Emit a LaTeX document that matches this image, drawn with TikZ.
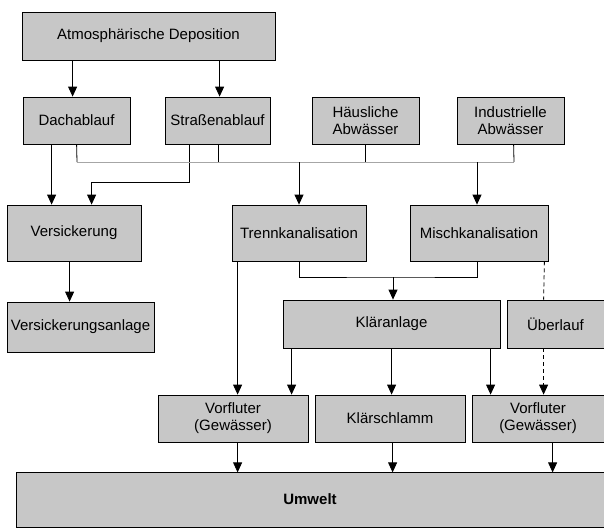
\documentclass[tikz,border=0pt]{standalone}
\usepackage{fontspec}
\setmainfont{Liberation Sans}
\usetikzlibrary{arrows.meta}

\begin{document}
\begin{tikzpicture}[x=1pt,y=-1pt,
    box/.style={draw,line width=0.8pt,fill=black!22,inner sep=0pt,align=center,
      font=\fontsize{15}{17}\selectfont},
    arr/.style={line width=0.8pt,-{Triangle[length=10pt,width=9pt]}},
    line/.style={line width=0.8pt},
    overflow/.style={line width=0.8pt,dash pattern=on 4pt off 3pt}]
  \useasboundingbox (0,0) rectangle (604,527);
  % Quellen
  \node[box,minimum width=253,minimum height=48] (dep) at (148.5,36) {Atmosphärische Deposition};
  \node[box,minimum width=107,minimum height=47] (dach) at (76.5,120.5) {Dachablauf};
  \node[box,minimum width=105,minimum height=47] (strasse) at (217.5,120.5) {Straßenablauf};
  \node[box,minimum width=107,minimum height=47] (haus) at (365.5,120.5) {Häusliche\\Abwässer};
  \node[box,minimum width=107,minimum height=47] (indu) at (510.5,120.5) {Industrielle\\Abwässer};
  % Ableitung
  \node[box,minimum width=134,minimum height=56] (vers) at (74,233) {Versickerung};
  \node[box,minimum width=147,minimum height=50] (versan) at (80.5,327) {Versickerungsanlage};
  \node[box,minimum width=134,minimum height=56] (trenn) at (299,233) {Trennkanalisation};
  \node[box,minimum width=138,minimum height=56] (misch) at (479,233) {Mischkanalisation};
  \node[box,minimum width=217,minimum height=48] (klaer) at (391.5,324) {Kläranlage};
  \node[box,minimum width=97,minimum height=48] (ueber) at (555.5,324) {Überlauf};
  \node[box,minimum width=150,minimum height=47] (vorf1) at (233,418.5) {Vorfluter\\(Gewässer)};
  \node[box,minimum width=150,minimum height=47] (schlamm) at (390,418.5) {Klärschlamm};
  \node[box,minimum width=132,minimum height=47] (vorf2) at (538,418.5) {Vorfluter\\(Gewässer)};
  \node[box,minimum width=588,minimum height=55,font=\fontsize{15}{17}\selectfont\bfseries] (umwelt) at (310,499.5) {Umwelt};

  % Deposition
  \draw[arr] (dep.south west) ++(51,0) -- ([xshift=50pt]dach.north west);
  \draw[arr] (dep.south west) ++(198,0) -- ([xshift=55pt]strasse.north west);
  % Versickerung
  \draw[arr] (dach.south west) ++(29,0) -- ([xshift=45pt]vers.north west);
  \draw[arr] (strasse.south west) ++(25,0) -- ++(0,38) -| ([xshift=85pt]vers.north west);
  \draw[arr] (vers.south west) ++(63,0) -- ([xshift=63pt]versan.north west);
  % Sammelleitung
  \coordinate (s1) at (77,162);
  \coordinate (s2) at (514,162);
  \draw[line,black!35] (s1) -- (s2);
  \draw[line] (dach.south west) ++(54,0) -- (s1);
  \draw[line] (strasse.south west) ++(54,0) -- ++(0,18);
  \draw[line] (haus.south west) ++(54,0) -- ++(0,18);
  \draw[line] (indu.south west) ++(57,0) -- (s2);
  \draw[arr] (s1 -| trenn.north) -- (trenn.north);
  \draw[arr] (s1 -| misch.north) ++(-2,0) -- ([xshift=-2pt]misch.north);
  % Kanalisation
  \coordinate (k1) at (393,277);
  \draw[line] (trenn.south) |- (k1) -| ([xshift=-2pt]misch.south);
  \draw[arr] (k1) -- (k1 |- klaer.north);
  \draw[arr] (trenn.south west) ++(6,0) -- ([xshift=80pt]vorf1.north west);
  \draw[overflow] (misch.south east) ++(-4,0) -- ([xshift=37pt]ueber.north west);
  % Kläranlage
  \draw[arr] (klaer.south west) ++(9,0) -- ([xshift=134pt]vorf1.north west);
  \draw[arr] (klaer.south west) ++(109,0) -- ([xshift=77pt]schlamm.north west);
  \draw[arr] (klaer.south west) ++(208,0) -- ([xshift=19pt]vorf2.north west);
  \draw[overflow,-{Triangle[length=10pt,width=9pt]}] (ueber.south west) ++(37,0) -- ([xshift=72pt]vorf2.north west);
  % Umwelt
  \draw[arr] (vorf1.south west) ++(80,0) -- ++(0,30);
  \draw[arr] (schlamm.south west) ++(78,0) -- ++(0,30);
  \draw[arr] (vorf2.south west) ++(81,0) -- ++(0,30);
\end{tikzpicture}
\end{document}
